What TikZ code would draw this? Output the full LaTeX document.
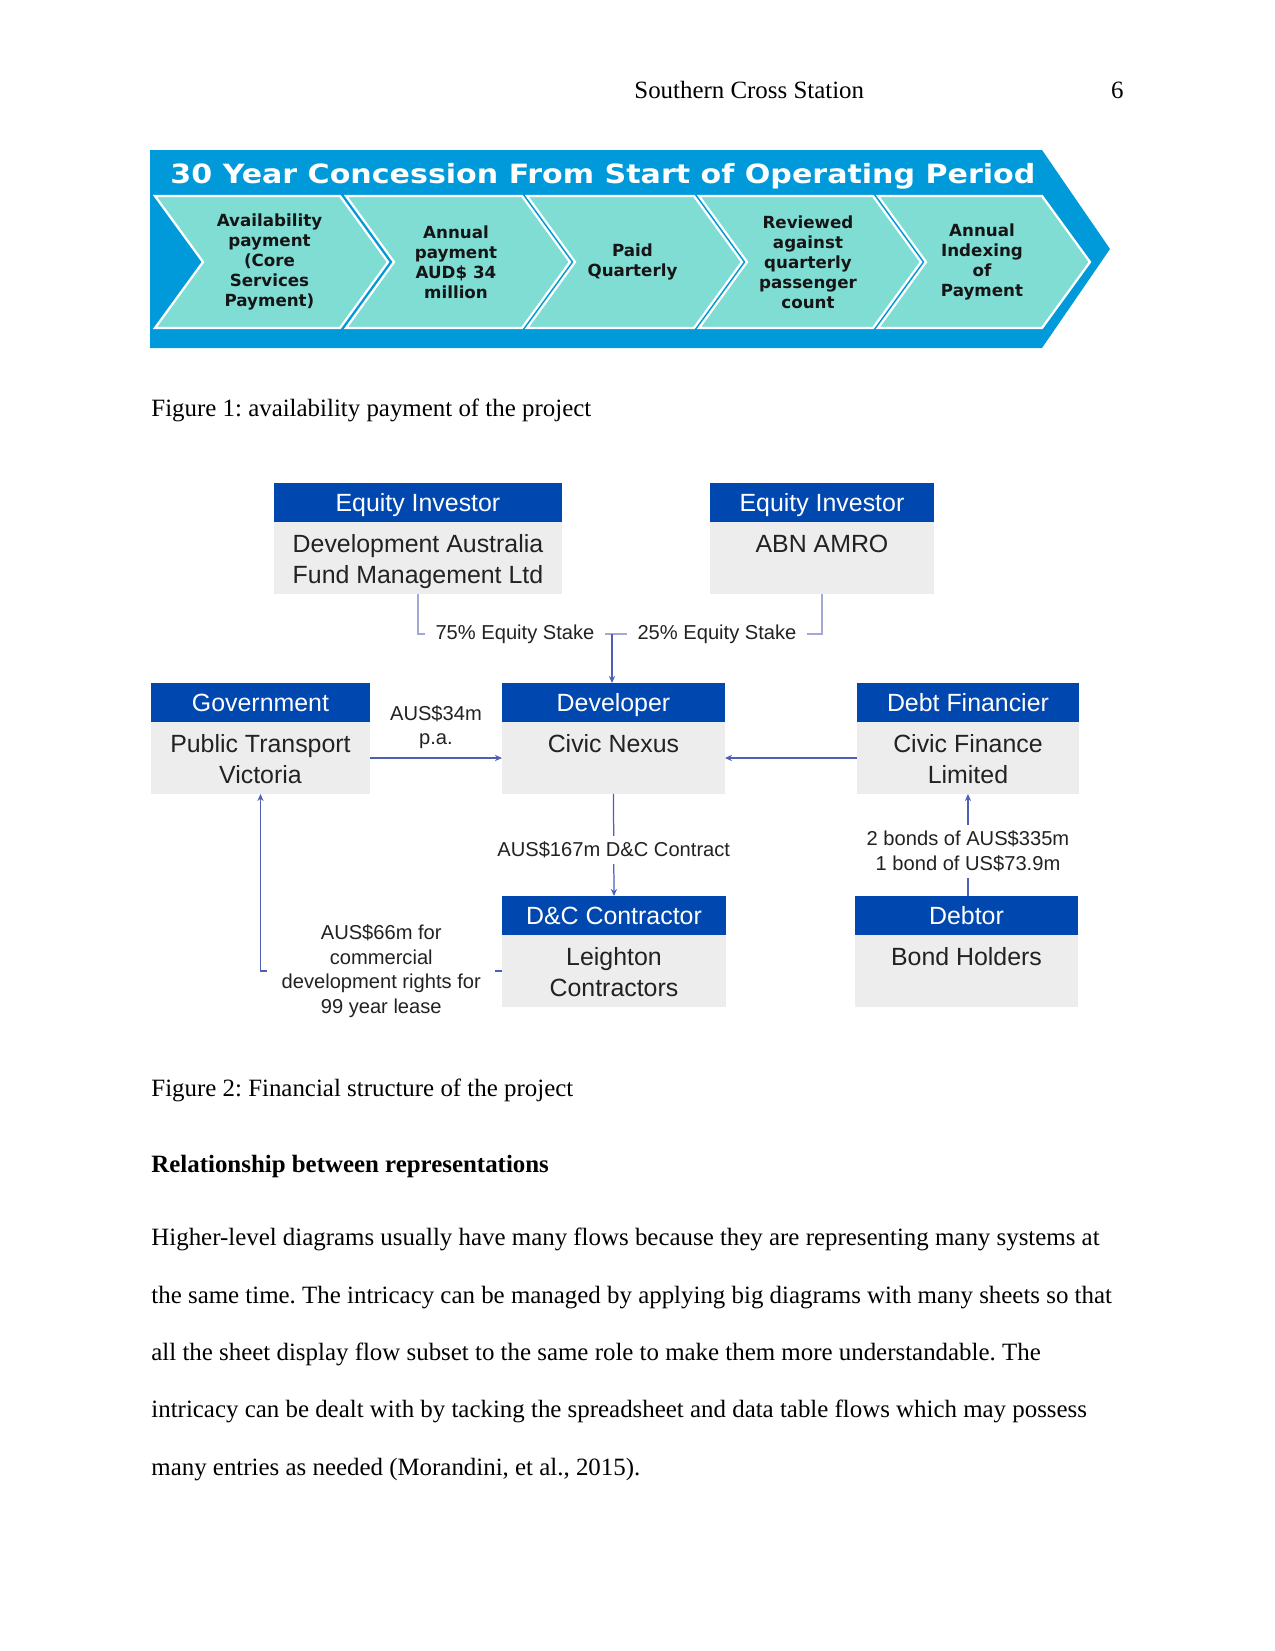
\documentclass[tikz,border=0pt]{standalone}
\usepackage{fontspec}
\setmainfont{Liberation Serif}
\newfontfamily\arialf{Liberation Sans}
\newfontfamily\verafont{DejaVu Sans}
\newfontfamily\verawide[FakeStretch=1.135]{DejaVu Sans}
\usetikzlibrary{arrows.meta}
\frenchspacing
\newcommand\PX{0.4818pt}
\definecolor{bannerblue}{HTML}{0099DA}
\definecolor{chevteal}{HTML}{80DDD4}
\definecolor{chevtextc}{HTML}{151515}
\definecolor{hdrblue}{HTML}{0048B0}
\definecolor{bodygrey}{HTML}{EDEDED}
\definecolor{lineblue}{HTML}{4E60B6}
\definecolor{linelav}{HTML}{A3A9D3}
\definecolor{textdark}{HTML}{222222}
\newcommand\orgbox[7]{%
  \node[hdr, minimum width=#4*\PX] (#1h) at (#2,#3) {#5};
  \node[bdy, minimum width=#4*\PX, minimum height=#7*\PX] (#1) at (#1h.south west) {};
  \node[bdytext] (#1t) at (#1.north) {\rule{0pt}{14.45pt}#6};
}
\newcommand\chev[4]{%
  \draw[chevron] (#1,196) -- (#2,196) -- (#2+48,262) -- (#2,328) -- (#1,328) -- (#1+48,262) -- cycle;
  \node[chevtext] (#3) at ({(#1+#2)/2+22},262) {#4};
}
\begin{document}
\frenchspacing
\begin{tikzpicture}[x=0.016933cm,y=-0.016933cm,
  pagetext/.style={inner sep=0, font=\fontsize{12}{14}\selectfont, text=black},
  chevron/.style={fill=chevteal, draw=white, line width=1.1pt, line join=miter},
  chevtext/.style={align=center, inner sep=0, text=chevtextc, font=\verafont\bfseries\fontsize{8.05}{9.64}\selectfont},
  hdr/.style={anchor=north west, rectangle, fill=hdrblue, text=white, inner sep=0, outer sep=0, minimum height=39*\PX, text height=10pt, text depth=1.4pt, font=\arialf\fontsize{12}{15}\selectfont},
  bdy/.style={anchor=north west, rectangle, fill=bodygrey, inner sep=0, outer sep=0},
  bdytext/.style={anchor=north, inner sep=0, align=center, text=textdark, font=\arialf\fontsize{12}{15}\selectfont},
  eqline/.style={draw=linelav, line width=0.6pt},
  arr/.style={draw=lineblue, line width=0.6pt, -{Stealth[length=3.4pt,width=3pt]}},
  lbl/.style={fill=white, inner sep=3pt, align=center, text=textdark, font=\arialf\fontsize{9.7}{11.8}\selectfont}
]
\useasboundingbox (0,0) rectangle (1275,1651);
\fill[white] (0,0) rectangle (1275,1651);

% running header
\node[pagetext, anchor=base west] (runhead) at (634,98) {Southern Cross Station};
\node[pagetext, anchor=base east] (pagenum) at (1124,98) {6};

% Figure 1 banner
\fill[bannerblue] (150,150) -- (1042,150) -- (1110,249) -- (1042,348) -- (150,348) -- cycle;
\node[anchor=base west, inner sep=0, text=white, font=\verawide\bfseries\fontsize{12.77}{14}\selectfont] (title) at (170,183) {30 Year Concession From Start of Operating Period};
\chev{155}{340}{c1}{Availability\\payment\\(Core\\Services\\Payment)}
\chev{346}{522}{c2}{Annual\\payment\\AUD\$ 34\\million}
\chev{527}{694}{c3}{Paid\\Quarterly}
\chev{699}{873}{c4}{Reviewed\\against\\quarterly\\passenger\\count}
\chev{878}{1042}{c5}{Annual\\Indexing\\of\\Payment}

\node[pagetext, anchor=base west] (cap1) at (151,416) {Figure 1: availability payment of the project};

% Figure 2 boxes
\orgbox{eia}{274}{483}{288}{Equity Investor}{Development Australia\\Fund Management Ltd}{72}
\orgbox{eib}{710}{483}{224}{Equity Investor}{ABN AMRO}{72}
\orgbox{gov}{151}{683}{219}{Government}{Public Transport\\Victoria}{72}
\orgbox{dev}{502}{683}{223}{Developer}{Civic Nexus}{72}
\orgbox{dbf}{857}{683}{222}{Debt Financier}{Civic Finance\\Limited}{72}
\orgbox{dcc}{502}{896}{224}{D\&C Contractor}{Leighton\\Contractors}{72}
\orgbox{dbt}{855}{896}{223}{Debtor}{Bond Holders}{72}

% connectors
\coordinate (jn) at (612,634);
\draw[eqline] (eia.south) |- node[lbl, inner xsep=5pt, pos=0.75] (l75) {75\% Equity Stake} (jn);
\draw[eqline] (eib.south) |- node[lbl, inner xsep=5pt, pos=0.75] (l25) {25\% Equity Stake} (jn);
\draw[arr] (jn) -- (jn |- devh.north);
\draw[arr] (gov.east) -- node[lbl, fill=none, above=1pt] (l34) {AUS\$34m\\p.a.} (dev.west);
\draw[arr] (dbf.west) -- (dev.east);
\draw[arr] (dev.south) -- node[lbl, pos=0.55] (l167) {AUS\$167m D\&C Contract} (dcch.north);
\draw[arr] (dbf.south |- dbth.north) -- node[lbl, pos=0.44] (lbond) {2 bonds of AUS\$335m\\1 bond of US\$73.9m} (dbf.south);
\draw[arr] (dcc.west) -| node[lbl, inner xsep=7pt, pos=0.25] (l66) {AUS\$66m for\\commercial\\development rights for\\99 year lease} (gov.south);

\node[pagetext, anchor=base west] (cap2) at (151,1096) {Figure 2: Financial structure of the project};
\node[pagetext, anchor=base west, font=\bfseries\fontsize{12}{14}\selectfont] (head) at (151,1172) {Relationship between representations};
\node[pagetext, anchor=base west] (p1) at (151,1245.6) {Higher-level diagrams usually have many flows because they are representing many systems at};
\node[pagetext, anchor=base west] (p2) at (151,1303) {the same time. The intricacy can be managed by applying big diagrams with many sheets so that};
\node[pagetext, anchor=base west] (p3) at (151,1360.4) {all the sheet display flow subset to the same role to make them more understandable. The};
\node[pagetext, anchor=base west] (p4) at (151,1417.8) {intricacy can be dealt with by tacking the spreadsheet and data table flows which may possess};
\node[pagetext, anchor=base west] (p5) at (151,1475.2) {many entries as needed (Morandini, et al., 2015).};
\end{tikzpicture}
\end{document}
